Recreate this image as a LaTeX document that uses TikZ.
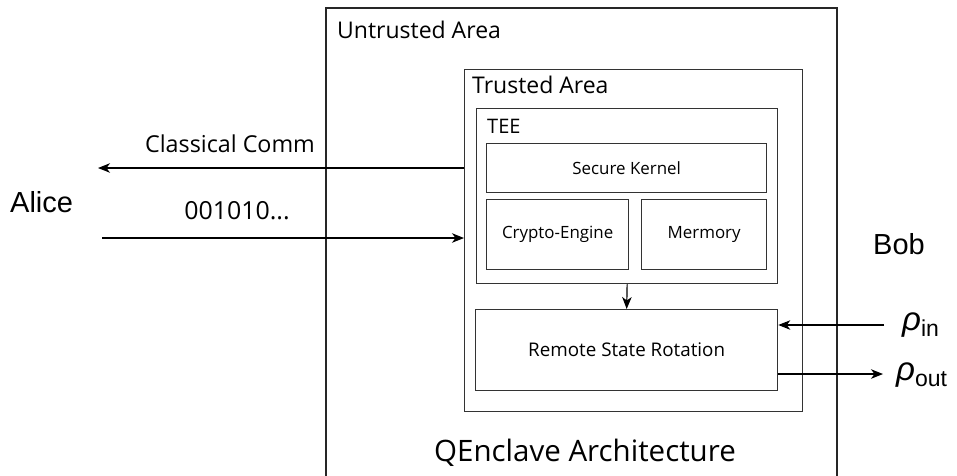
\documentclass[tikz,border=0pt]{standalone}
\usepackage{fontspec}
\setmainfont{Open Sans}
\newfontfamily\arialf{Liberation Sans}
\usetikzlibrary{arrows.meta}
\newcommand{\fs}[1]{\fontsize{#1}{#1}\selectfont}
\begin{document}
\begin{tikzpicture}[x=1pt,y=-1pt,
  box/.style={draw=black!80,line width=1.3pt,rectangle,inner sep=0pt,anchor=north west,align=center},
  lbl/.style={inner sep=0pt,anchor=base west},
  arr/.style={line width=1.2pt,-{Stealth[length=12pt,width=9.5pt,inset=3.5pt]}}]
\useasboundingbox (0,0) rectangle (957,475);
% outer untrusted area (bottom edge out of view)
\coordinate (ubl) at (326,478);
\coordinate (utl) at (326,8);
\coordinate (utr) at (837,8);
\coordinate (ubr) at (837,478);
\draw[black!85,line width=1.3pt] (ubl) -- (utl) -- (utr) -- (ubr);
\node[lbl] (untl) at (337,38) {\fs{23}Untrusted Area};
% trusted area
\node[box,minimum width=338pt,minimum height=342pt] (trusted) at (464,69) {};
\node[lbl] (trl) at (472,93) {\fs{23}Trusted Area};
% TEE
\node[box,minimum width=301pt,minimum height=175pt] (tee) at (476,108) {};
\node[lbl] (teel) at (487,133) {\fs{20}TEE};
\node[box,minimum width=280pt,minimum height=49pt] (kernel) at (486,143) {\fs{16.9}Secure Kernel};
\node[box,minimum width=142pt,minimum height=70pt] (crypto) at (486,199) {\fs{16.9}Crypto-Engine};
\node[box,minimum width=125pt,minimum height=70pt] (mem) at (641,199) {\fs{16.9}Mermory};
\node[box,minimum width=302pt,minimum height=81pt] (rsr) at (475,309) {\fs{18.8}Remote State Rotation};
\draw[arr] (tee.south) -- (rsr.north);
\node[inner sep=0pt,anchor=base] (title) at (585,461) {\fs{29.5}QEnclave Architecture};
% Alice side
\node[lbl] (alice) at (10,212) {\arialf\fs{29}Alice};
\coordinate (cend) at (98,168);
\draw[arr] (trusted.west |- cend) -- (cend);
\node[inner sep=0pt,anchor=base] (cc) at (230,152) {\fs{23.3}Classical Comm};
\coordinate (dstart) at (102,238);
\draw[arr] (dstart) -- (trusted.west |- dstart);
\node[inner sep=0pt,anchor=base] (bits) at (237,219) {\fs{24.9}001010...};
% Bob side
\node[lbl] (bob) at (873,254) {\arialf\fs{29}Bob};
\coordinate (rinstart) at (884,325);
\draw[arr] (rinstart) -- (rsr.east |- rinstart);
\coordinate (routend) at (883,374);
\draw[arr] (rsr.east |- routend) -- (routend);
\node[lbl] (rin) at (902,330) {\arialf\fs{33}\itshape ρ\upshape\raisebox{-6pt}{\fs{23}in}};
\node[lbl] (rout) at (896,380) {\arialf\fs{33}\itshape ρ\upshape\raisebox{-6pt}{\fs{23}out}};
\end{tikzpicture}
\end{document}
